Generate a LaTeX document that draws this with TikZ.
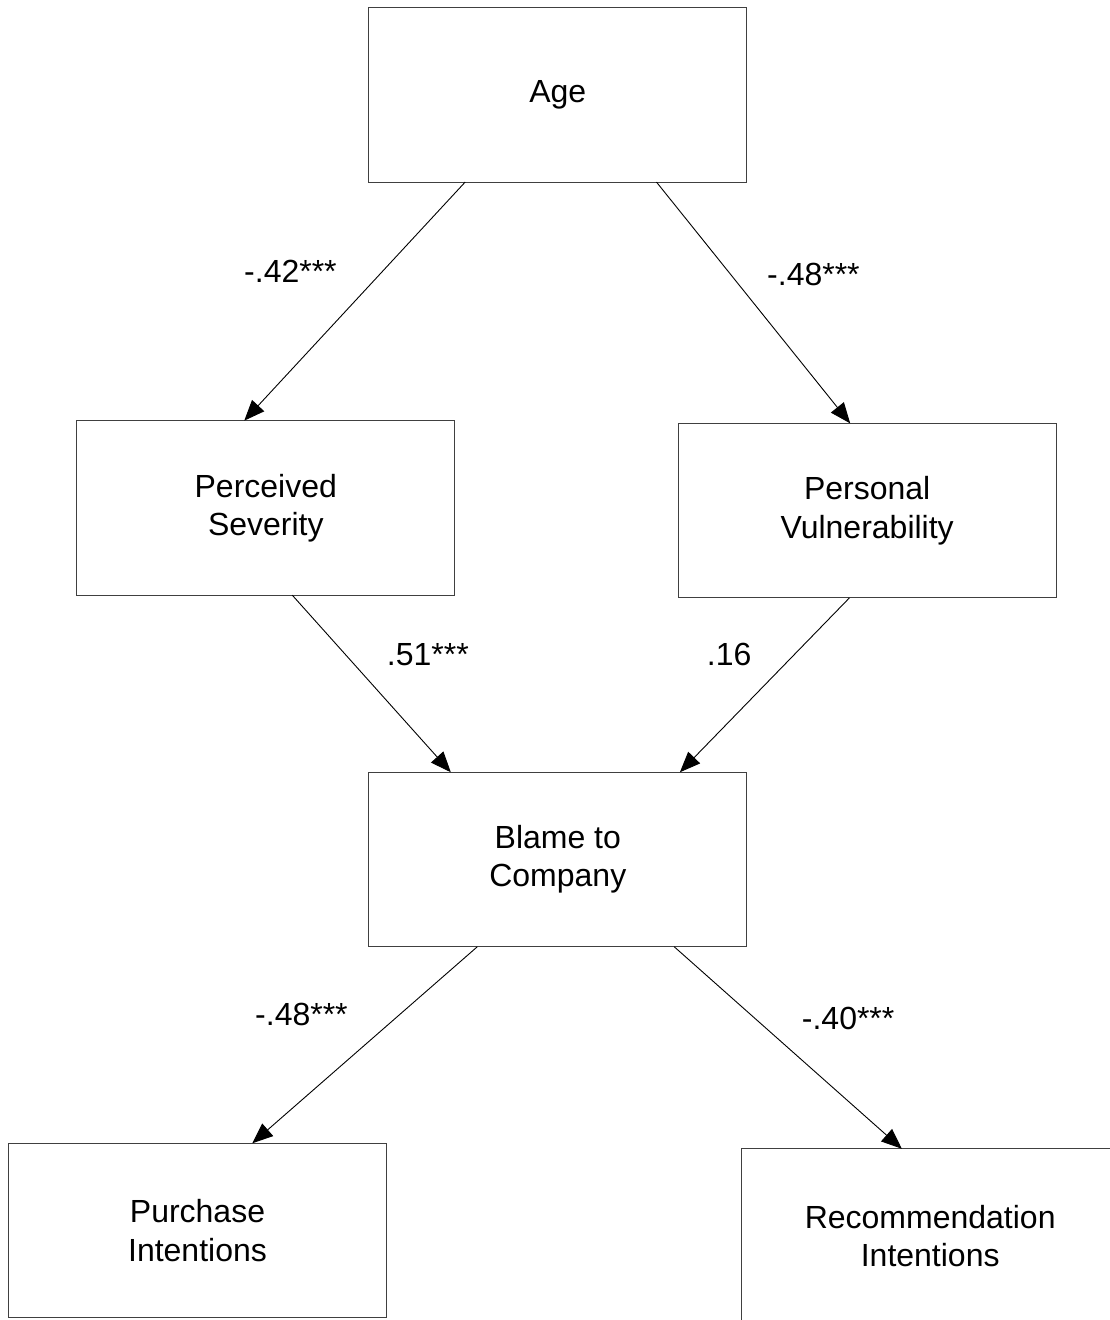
\documentclass[tikz,border=0pt]{standalone}
\usepackage{fontspec}
\setmainfont{Liberation Sans}
\usetikzlibrary{arrows.meta,calc}
\begin{document}
\begin{tikzpicture}[x=1pt,y=-1pt,
  box/.style={draw=black!75, line width=1.1pt, minimum width=378pt, minimum height=174.5pt,
    inner sep=0pt, outer sep=0pt, align=center, font=\fontsize{32}{38.3}\selectfont},
  lbl/.style={anchor=base west, inner sep=0pt, font=\fontsize{32}{38}\selectfont},
  arr/.style={line width=0.9pt, -{Triangle[length=20.5pt,width=16.5pt]}}]
\useasboundingbox (0,0) rectangle (1109,1320);
\node[box] (age) at (557.8,94.8) {Age};
\node[box] (ps) at (265.8,507.9) {Perceived\\Severity};
\node[box] (pv) at (867.2,510.6) {Personal\\Vulnerability};
\node[box] (blame) at (557.8,859.5) {Blame to\\Company};
\node[box] (pi) at (197.5,1230.5) {Purchase\\Intentions};
\node[box] (ri) at (930.2,1236) {Recommendation\\Intentions};

\draw[arr] ($(age.south west)!0.255!(age.south east)$) -- ($(ps.north west)!0.443!(ps.north east)$);
\draw[arr] ($(age.south west)!0.761!(age.south east)$) -- ($(pv.north west)!0.455!(pv.north east)$);
\draw[arr] ($(ps.south west)!0.570!(ps.south east)$) -- ($(blame.north west)!0.217!(blame.north east)$);
\draw[arr] ($(pv.south west)!0.453!(pv.south east)$) -- ($(blame.north west)!0.823!(blame.north east)$);
\draw[arr] ($(blame.south west)!0.287!(blame.south east)$) -- ($(pi.north west)!0.645!(pi.north east)$);
\draw[arr] ($(blame.south west)!0.808!(blame.south east)$) -- ($(ri.north west)!0.425!(ri.north east)$);

\node[lbl] (l1) at (244,282) {-.42***};
\node[lbl] (l2) at (767,285) {-.48***};
\node[lbl] (l3) at (386.7,665) {.51***};
\node[lbl] (l4) at (706.7,665) {.16};
\node[lbl] (l5) at (255,1025) {-.48***};
\node[lbl] (l6) at (801.7,1029) {-.40***};
\end{tikzpicture}
\end{document}
